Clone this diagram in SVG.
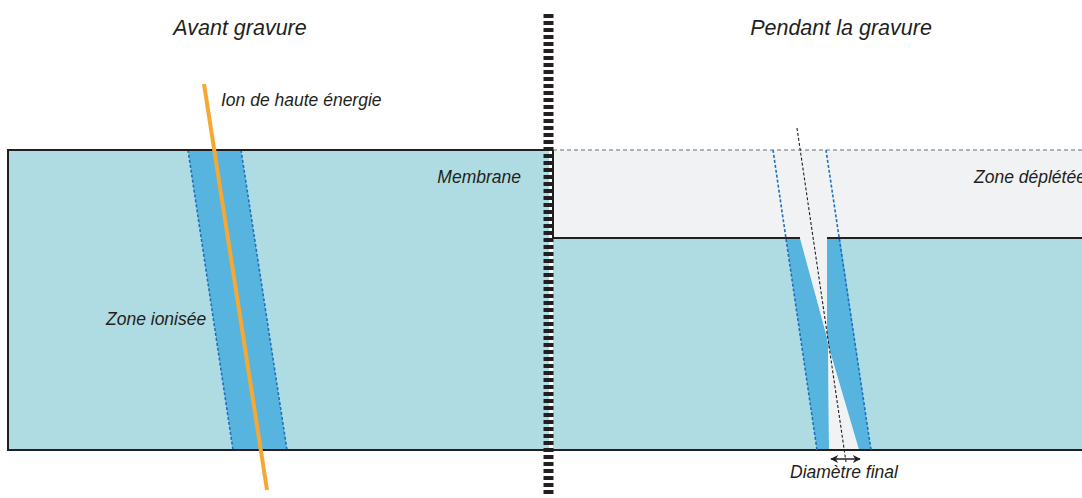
<svg xmlns="http://www.w3.org/2000/svg" width="1082" height="498" viewBox="0 0 1082 498">
  <defs>
    <style>
      .lbl { font-family: "Liberation Sans", Arial, sans-serif; font-style: italic; fill: #231f20; }
      .title { font-size: 21.5px; }
      .small { font-size: 17.5px; }
      .membrane { fill: #aedce2; }
      .depleted { fill: #f1f2f4; }
      .ionised { fill: #56b4df; }
      .edge { stroke: #231f20; stroke-width: 2; fill: none; }
      .bluedash { stroke: #1f6fbf; stroke-width: 1.6; stroke-dasharray: 3 2; fill: none; }
      .blackdash { stroke: #231f20; stroke-width: 1.1; stroke-dasharray: 3 2; fill: none; }
      .graydash { stroke: #6d6e71; stroke-width: 1; stroke-dasharray: 4 3; fill: none; }
    </style>
    <marker id="arrow" viewBox="0 0 10 10" refX="9" refY="5" markerWidth="9" markerHeight="8" orient="auto-start-reverse" markerUnits="userSpaceOnUse">
      <path d="M0,0 L10,5 L0,10 L3,5 Z" fill="#231f20"/>
    </marker>
  </defs>

  <!-- Left panel: membrane before etching -->
  <g id="membrane-before">
    <rect class="membrane" x="8" y="150" width="541" height="300"/>
    <polygon class="ionised" points="188,150 241,150 287,450 233,450"/>
    <line class="bluedash" x1="188" y1="150" x2="233" y2="450"/>
    <line class="bluedash" x1="241" y1="150" x2="287" y2="450"/>
    <polyline class="edge" points="549,150 8,150 8,450 549,450"/>
  </g>

  <!-- High energy ion track -->
  <g id="ion">
    <line x1="204" y1="84" x2="267" y2="490" stroke="#f7a833" stroke-width="4"/>
  </g>

  <!-- Right panel: membrane during etching -->
  <g id="membrane-during">
    <rect class="depleted" x="553" y="150" width="529" height="88"/>
    <rect class="membrane" x="553" y="238" width="529" height="212"/>
    <!-- partially etched ionised track -->
    <polygon class="ionised" points="786,238 800,238 828,341 829,450 817,450"/>
    <polygon class="ionised" points="827,238 840,238 871,450 859,450 827,341"/>
    <polygon class="depleted" points="800,238 827,238 827,341 859,450 829,450 828,341"/>
    <line class="graydash" x1="553" y1="150" x2="1082" y2="150"/>
    <polyline class="edge" points="553,150 553,238 800,238"/>
    <line class="edge" x1="827" y1="238" x2="1082" y2="238"/>
    <line class="edge" x1="553" y1="450" x2="1082" y2="450"/>
    <line class="bluedash" x1="773" y1="150" x2="817" y2="450"/>
    <line class="bluedash" x1="826" y1="150" x2="871" y2="450"/>
    <line class="blackdash" x1="797" y1="128" x2="846" y2="462"/>
  </g>

  <!-- Separator between the two panels -->
  <g id="separator">
    <line x1="548.5" y1="14" x2="548.5" y2="496" stroke="#231f20" stroke-width="10" stroke-dasharray="4 3"/>
  </g>

  <g id="connectors">
    <line x1="831" y1="459" x2="860" y2="459" stroke="#231f20" stroke-width="1.5" marker-start="url(#arrow)" marker-end="url(#arrow)"/>
  </g>

  <!-- Labels -->
  <g id="labels">
    <text class="lbl title" x="240" y="35" text-anchor="middle">Avant gravure</text>
    <text class="lbl title" x="841" y="35" text-anchor="middle">Pendant la gravure</text>
    <text class="lbl small" x="221" y="106">Ion de haute énergie</text>
    <text class="lbl small" x="521" y="183" text-anchor="end">Membrane</text>
    <text class="lbl small" x="106" y="325">Zone ionisée</text>
    <text class="lbl small" x="974" y="183">Zone déplétée</text>
    <text class="lbl small" x="844" y="478" text-anchor="middle">Diamètre final</text>
  </g>
</svg>
